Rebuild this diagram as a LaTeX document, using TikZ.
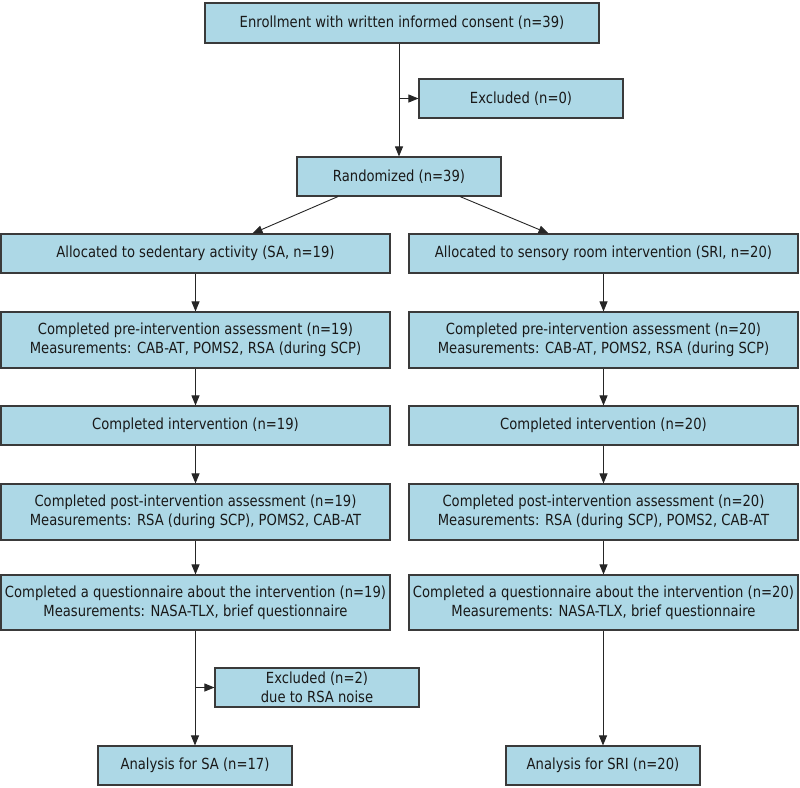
\documentclass[tikz,border=0pt]{standalone}
\usepackage{fontspec}
\setmainfont{DejaVu Sans}[FakeStretch=0.86]
\usetikzlibrary{arrows.meta,calc}
\definecolor{boxfill}{HTML}{ADD8E6}
\definecolor{boxline}{HTML}{3A3A3A}
\begin{document}
\begin{tikzpicture}[x=1pt,y=-1pt,
  box/.style={draw=boxline,line width=1.1pt,fill=boxfill,align=center,
    inner sep=0pt,font=\fontsize{15.3}{19}\selectfont,text=black!90},
  wide/.style={box,minimum width=389pt,minimum height=39pt},
  tall/.style={box,minimum width=389pt,minimum height=56pt},
  small/.style={box,minimum width=204pt,minimum height=39pt},
  leaf/.style={box,minimum width=194pt,minimum height=39pt},
  flow/.style={draw=black!85,line width=0.9pt,-{Triangle[length=10pt,width=8pt]}},
  plain/.style={draw=black!85,line width=0.9pt}]
\useasboundingbox (0,0) rectangle (800,787);

\node[box,minimum width=394pt,minimum height=40pt] (enroll) at (402,23)
  {Enrollment with written informed consent (n=39)};
\node[small] (excl0) at (521,98.5) {Excluded (n=0)};
\node[small] (rand) at (399,176.5) {Randomized (n=39)};

% left arm: sedentary activity
\node[wide] (saAlloc) at (195.5,253.5) {Allocated to sedentary activity (SA, n=19)};
\node[tall] (saPre) at (195.5,340) {Completed pre-intervention assessment (n=19)\\Measurements: CAB-AT, POMS2, RSA (during SCP)};
\node[wide] (saInt) at (195.5,425.5) {Completed intervention (n=19)};
\node[tall] (saPost) at (195.5,512) {Completed post-intervention assessment (n=19)\\Measurements: RSA (during SCP), POMS2, CAB-AT};
\node[tall,minimum height=55pt] (saQ) at (195.5,602.5) {Completed a questionnaire about the intervention (n=19)\\Measurements: NASA-TLX, brief questionnaire};
\node[small] (excl2) at (317,687.5) {Excluded (n=2)\\due to RSA noise};
\node[leaf] (saAna) at (195,765.5) {Analysis for SA (n=17)};

% right arm: sensory room intervention
\node[wide] (sriAlloc) at (603.5,253.5) {Allocated to sensory room intervention (SRI, n=20)};
\node[tall] (sriPre) at (603.5,340) {Completed pre-intervention assessment (n=20)\\Measurements: CAB-AT, POMS2, RSA (during SCP)};
\node[wide] (sriInt) at (603.5,425.5) {Completed intervention (n=20)};
\node[tall] (sriPost) at (603.5,512) {Completed post-intervention assessment (n=20)\\Measurements: RSA (during SCP), POMS2, CAB-AT};
\node[tall,minimum height=55pt] (sriQ) at (603.5,602.5) {Completed a questionnaire about the intervention (n=20)\\Measurements: NASA-TLX, brief questionnaire};
\node[leaf] (sriAna) at (603,765.5) {Analysis for SRI (n=20)};

% enrollment to randomization, with exclusion branch
\draw[flow] (rand.north |- enroll.south) -- (rand.north);
\coordinate (tap0) at (rand.north |- excl0.west);
\draw[flow] (tap0) -- (excl0.west);

% randomization split
\coordinate (randL) at ($(rand.south)+(-61,0)$);
\coordinate (randR) at ($(rand.south)+(61,0)$);
\coordinate (saIn) at ($(saAlloc.north)+(57,0)$);
\coordinate (sriIn) at ($(sriAlloc.north)+(-55,0)$);
\draw[flow] (randL) -- (saIn);
\draw[flow] (randR) -- (sriIn);

% left column chain
\draw[flow] (saAlloc) -- (saPre);
\draw[flow] (saPre) -- (saInt);
\draw[flow] (saInt) -- (saPost);
\draw[flow] (saPost) -- (saQ);
\draw[flow] (saQ.south -| saAna.north) -- (saAna.north);
\coordinate (tap2) at (saAna.north |- excl2.west);
\draw[flow] (tap2) -- (excl2.west);

% right column chain
\draw[flow] (sriAlloc) -- (sriPre);
\draw[flow] (sriPre) -- (sriInt);
\draw[flow] (sriInt) -- (sriPost);
\draw[flow] (sriPost) -- (sriQ);
\draw[flow] (sriQ.south -| sriAna.north) -- (sriAna.north);
\end{tikzpicture}
\end{document}
